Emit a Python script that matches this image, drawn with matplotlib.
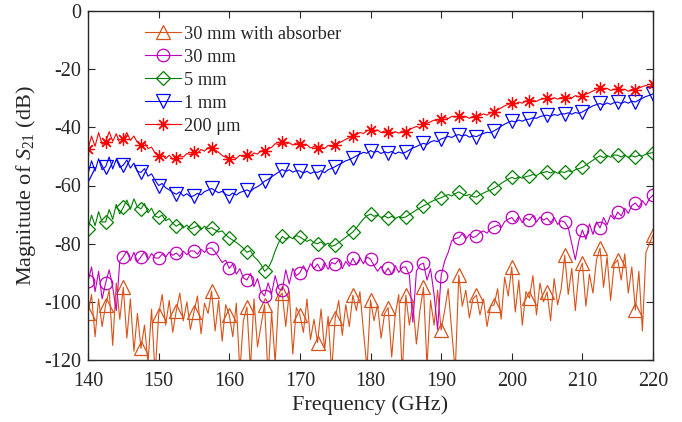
import numpy as np
import matplotlib
matplotlib.use("Agg")
import matplotlib.pyplot as plt

# ---------------- data (frequency grid in GHz, magnitudes in dB) ----------------
f_start, f_stop, f_step = 140.0, 220.0, 0.5
freq = np.arange(f_start, f_stop + f_step / 2, f_step)

s21_absorber = [
    -104.0, -97.5, -112.0, -99.0, -108.5,
    -101.0, -96.0, -115.0, -93.5, -106.0,
    -95.0, -112.5, -99.0, -117.0, -104.0,
    -116.0, -108.0, -121.0, -102.5, -125.0,
    -104.5, -97.5, -108.0, -99.5, -110.5,
    -103.0, -97.0, -106.5, -100.0, -109.5,
    -103.5, -98.0, -111.0, -100.5, -104.0,
    -96.3, -110.0, -99.5, -113.5, -101.0,
    -104.5, -112.0, -100.5, -124.0, -106.5,
    -101.8, -123.0, -99.0, -115.5, -108.0,
    -101.0, -126.0, -103.5, -121.0, -98.5,
    -97.0, -108.5, -96.5, -118.0, -102.0,
    -104.5, -110.5, -99.0, -113.0, -106.0,
    -114.0, -102.5, -116.5, -105.0, -124.0,
    -105.6, -99.5, -111.5, -101.0, -108.5,
    -97.7, -103.0, -96.5, -110.0, -123.0,
    -99.4, -106.5, -101.0, -112.5, -104.0,
    -102.0, -119.0, -104.5, -97.5, -125.0,
    -97.7, -108.0, -100.5, -114.5, -103.0,
    -95.0, -122.0, -99.5, -108.0, -96.0,
    -109.7, -103.0, -95.5, -110.0, -124.0,
    -90.8, -101.5, -96.0, -105.5, -99.0,
    -97.7, -104.5, -99.0, -108.5, -101.5,
    -101.0, -95.5, -106.0, -91.5, -98.0,
    -88.0, -103.5, -92.5, -108.0, -96.5,
    -98.7, -91.0, -104.5, -93.5, -100.0,
    -96.6, -106.5, -92.0, -101.0, -95.5,
    -84.0, -97.5, -88.5, -103.0, -90.0,
    -86.7, -101.5, -90.5, -97.0, -85.5,
    -81.5, -95.0, -84.5, -99.5, -87.0,
    -85.6, -92.5, -83.5, -97.0, -88.0,
    -102.8, -89.5, -110.0, -83.0, -80.0,
    -77.0,
]

s21_30mm = [
    -93.0, -88.0, -96.5, -89.5, -99.0,
    -93.5, -89.0, -95.0, -103.0, -86.0,
    -84.5, -82.5, -85.8, -83.0, -86.2,
    -84.5, -82.8, -85.5, -83.4, -84.9,
    -85.0, -83.6, -84.6, -82.9, -84.0,
    -83.2, -84.4, -82.6, -83.8, -82.5,
    -82.5, -83.6, -81.9, -83.0, -81.6,
    -81.5, -82.8, -84.6, -86.5, -85.7,
    -88.5, -87.0, -90.5, -88.6, -91.8,
    -92.5, -90.2, -94.8, -92.0, -96.5,
    -98.0, -93.5, -97.2, -91.0, -95.5,
    -96.0, -89.0, -93.8, -88.5, -91.0,
    -90.0, -87.6, -89.8, -86.9, -88.6,
    -87.0, -89.2, -86.4, -88.8, -86.5,
    -87.0, -85.5, -88.6, -86.1, -87.8,
    -85.0, -87.3, -84.8, -86.9, -84.6,
    -85.3, -87.6, -89.5, -87.8, -90.2,
    -88.4, -90.6, -87.5, -89.9, -88.1,
    -88.0, -90.8, -107.0, -89.5, -87.2,
    -86.7, -92.5, -88.6, -97.5, -109.5,
    -91.0, -86.0, -83.0, -79.0, -78.2,
    -78.0, -76.5, -78.4, -76.8, -77.9,
    -77.4, -76.2, -75.6, -76.4, -74.8,
    -74.2, -73.6, -74.5, -72.4, -71.6,
    -71.0, -72.5, -70.6, -72.8, -71.2,
    -72.0, -70.4, -72.6, -70.8, -71.9,
    -71.2, -72.8, -71.0, -73.4, -72.1,
    -72.6, -74.5, -80.0, -85.5, -79.0,
    -75.3, -78.5, -73.2, -76.8, -72.5,
    -74.6, -71.0, -73.5, -70.2, -71.6,
    -69.1, -70.5, -67.8, -69.6, -66.9,
    -66.0, -67.5, -65.2, -66.8, -64.5,
    -63.3,
]

s21_5mm = [
    -75.0, -70.2, -73.8, -69.0, -72.6,
    -72.5, -68.3, -71.6, -66.5, -69.8,
    -67.5, -65.0, -68.2, -64.6, -67.4,
    -68.0, -66.2, -69.4, -67.8, -70.5,
    -71.0, -70.2, -72.1, -71.4, -73.0,
    -74.0, -73.2, -74.6, -73.6, -74.9,
    -74.5, -73.8, -75.2, -74.0, -74.9,
    -74.5, -75.3, -76.0, -75.6, -77.0,
    -78.0, -78.8, -79.6, -80.5, -81.6,
    -83.0, -82.4, -84.5, -85.6, -87.2,
    -89.5, -88.4, -86.0, -82.5, -79.6,
    -77.5, -78.4, -77.6, -78.3, -77.2,
    -77.7, -78.5, -79.2, -78.6, -79.7,
    -80.0, -79.4, -80.6, -79.8, -80.9,
    -80.5, -79.6, -78.7, -77.8, -76.9,
    -76.0, -74.6, -73.0, -71.5, -70.4,
    -69.8, -70.6, -70.1, -71.0, -70.5,
    -71.2, -70.6, -71.4, -70.7, -71.1,
    -70.8, -70.0, -69.2, -68.4, -67.7,
    -67.0, -66.4, -65.7, -65.1, -64.6,
    -64.2, -63.6, -63.1, -63.6, -62.8,
    -62.2, -62.9, -63.5, -63.1, -63.8,
    -64.0, -63.2, -62.6, -62.0, -61.6,
    -61.0, -60.2, -59.3, -58.5, -57.8,
    -57.2, -57.7, -57.0, -57.5, -56.9,
    -56.7, -56.2, -56.6, -55.8, -55.5,
    -55.2, -55.7, -55.1, -55.8, -55.3,
    -55.5, -54.9, -55.3, -54.6, -54.2,
    -53.8, -53.0, -52.1, -51.3, -50.5,
    -49.8, -50.4, -49.7, -50.3, -49.5,
    -49.6, -50.2, -49.5, -50.4, -49.8,
    -50.2, -49.6, -49.9, -49.2, -48.9,
    -48.7,
]

s21_1mm = [
    -56.0, -51.5, -55.0, -50.8, -54.6,
    -53.5, -50.2, -54.3, -51.0, -53.8,
    -53.0, -51.2, -54.0, -52.3, -55.1,
    -55.5, -54.2, -56.8, -56.0, -58.2,
    -60.0, -59.3, -60.8, -61.5, -62.4,
    -63.0, -62.2, -63.6, -62.8, -63.9,
    -63.5, -62.7, -63.2, -62.1, -61.6,
    -61.0, -61.8, -62.5, -62.0, -63.1,
    -63.5, -62.6, -63.3, -62.4, -62.0,
    -61.5, -62.1, -61.0, -60.4, -59.6,
    -58.5, -57.9, -57.0, -56.2, -55.4,
    -54.5, -55.2, -54.6, -55.4, -54.9,
    -55.0, -55.7, -55.1, -55.9, -55.3,
    -55.5, -54.9, -55.6, -54.6, -54.1,
    -53.5, -52.8, -52.2, -51.5, -51.1,
    -50.5, -49.8, -49.2, -48.6, -48.9,
    -48.0, -48.6, -48.2, -49.0, -48.4,
    -48.8, -48.3, -49.1, -48.5, -48.9,
    -48.5, -47.8, -47.1, -46.6, -46.0,
    -45.5, -45.9, -45.0, -44.6, -44.9,
    -44.0, -43.6, -43.1, -43.5, -42.8,
    -42.5, -43.0, -42.6, -43.4, -42.9,
    -43.2, -42.6, -42.1, -41.7, -41.9,
    -41.2, -40.5, -39.6, -38.9, -38.3,
    -37.8, -38.2, -37.5, -37.9, -37.3,
    -37.2, -36.7, -36.9, -36.3, -36.0,
    -35.8, -36.2, -35.6, -35.9, -35.3,
    -35.4, -35.0, -35.5, -34.9, -35.2,
    -34.7, -34.0, -33.3, -32.6, -32.2,
    -31.8, -32.3, -31.6, -32.1, -31.5,
    -31.3, -31.8, -31.2, -31.7, -31.0,
    -31.3, -30.6, -30.0, -29.4, -29.0,
    -28.5,
]

s21_200um = [
    -47.5, -43.0, -46.5, -41.8, -45.8,
    -45.0, -41.5, -44.8, -42.2, -45.5,
    -44.0, -41.8, -44.5, -43.0, -45.2,
    -46.0, -45.2, -47.3, -46.8, -48.9,
    -50.0, -49.2, -50.8, -49.6, -51.0,
    -50.5, -49.8, -50.2, -49.0, -49.4,
    -48.5, -48.9, -47.6, -48.2, -47.0,
    -47.0, -47.8, -48.6, -49.7, -50.3,
    -51.0, -50.2, -50.7, -49.6, -50.1,
    -49.5, -49.9, -48.8, -49.2, -48.1,
    -48.0, -47.3, -46.9, -45.6, -45.9,
    -45.0, -45.8, -45.3, -46.1, -45.4,
    -45.7, -46.4, -46.0, -47.1, -46.6,
    -47.0, -46.5, -47.3, -46.2, -46.7,
    -46.0, -45.4, -44.8, -44.1, -43.6,
    -43.0, -42.6, -41.8, -42.1, -41.2,
    -40.8, -41.5, -40.9, -41.8, -41.2,
    -41.6, -42.2, -41.5, -42.0, -41.3,
    -41.6, -40.8, -40.2, -39.7, -40.1,
    -39.0, -38.6, -38.1, -37.5, -37.9,
    -37.1, -36.6, -37.0, -36.2, -36.5,
    -36.1, -36.8, -36.3, -36.9, -36.2,
    -36.5, -35.9, -35.4, -35.8, -35.0,
    -34.7, -34.0, -33.3, -32.6, -32.1,
    -31.6, -32.0, -31.3, -31.7, -30.9,
    -31.0, -30.6, -31.1, -30.4, -30.2,
    -30.0, -30.5, -29.8, -30.3, -29.7,
    -30.0, -29.4, -29.9, -29.1, -29.5,
    -29.2, -28.6, -28.1, -27.5, -27.0,
    -26.5, -27.1, -26.6, -27.3, -26.9,
    -26.8, -27.4, -26.9, -27.6, -27.0,
    -27.2, -26.5, -26.0, -25.6, -26.1,
    -25.1,
]

labels = ["30 mm with absorber", "30 mm", "5 mm", "1 mm", "200 \u03bcm"]
x_ticks = [140, 150, 160, 170, 180, 190, 200, 210, 220]
y_ticks = [-120, -100, -80, -60, -40, -20, 0]

# ---------------- style ----------------
plt.rcParams["font.family"] = ["Liberation Serif", "DejaVu Serif"]
plt.rcParams["mathtext.fontset"] = "custom"
plt.rcParams["mathtext.rm"] = "Liberation Serif"
plt.rcParams["mathtext.it"] = "Liberation Serif:italic"

txt_color = "#262626"
series = [
    (s21_absorber, "#D95319", "^", 10),
    (s21_30mm, "#BF00BF", "o", 9),
    (s21_5mm, "#008000", "D", 7.2),
    (s21_1mm, "#0000FF", "v", 10),
    (s21_200um, "#FF0000", (8, 2, 0), 9),
]

fig = plt.figure(figsize=(6.82, 4.22), dpi=100)
ax = fig.add_axes([88 / 682, 1 - 360 / 422, (653 - 88) / 682, (360 - 11) / 422])

for (vals, col, mk, ms), lab in zip(series, labels):
    ax.plot(freq, vals, color=col, lw=0.8, marker=mk, markersize=ms,
            markerfacecolor="none", markeredgecolor=col, markeredgewidth=0.9,
            markevery=5, label=lab)

ax.set_xlim(140, 220)
ax.set_ylim(-120, 0)
ax.set_xticks(x_ticks)
ax.set_yticks(y_ticks)
ax.set_xticklabels([str(t) for t in x_ticks])
ax.set_yticklabels([str(t) for t in y_ticks])
ax.tick_params(direction="in", length=5, width=0.8, top=True, right=True,
               labelsize=14.5, colors=txt_color)
ax.tick_params(axis="x", pad=9)
ax.tick_params(axis="y", pad=5)
for sp in ax.spines.values():
    sp.set_linewidth(1.0)
    sp.set_color(txt_color)

ax.set_xlabel("Frequency (GHz)", fontsize=16, color=txt_color, labelpad=3)
ax.set_ylabel("Magnitude of $S_{21}$ (dB)", fontsize=16, color=txt_color, labelpad=4)

leg = ax.legend(loc="upper left", bbox_to_anchor=(0.079, 0.995), frameon=False,
                fontsize=13.2, handlelength=1.95, handletextpad=0.15,
                labelspacing=0.33, borderaxespad=0.3)
for t in leg.get_texts():
    t.set_color(txt_color)

fig.savefig("out.png", dpi=100)
